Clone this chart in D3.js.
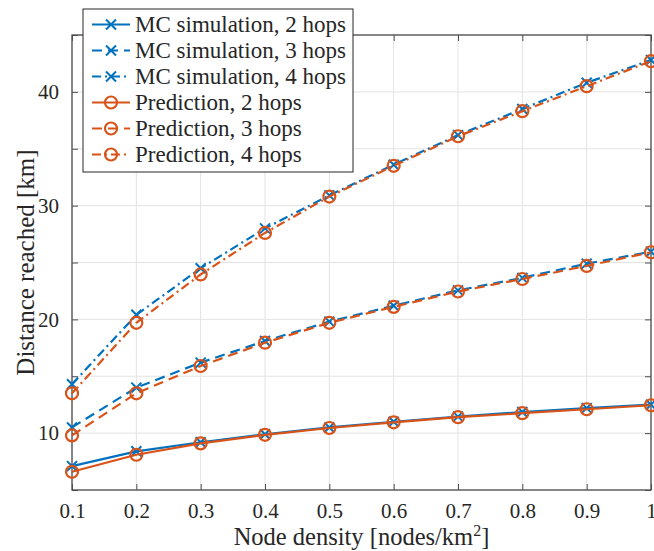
<!DOCTYPE html>
<html>
<head>
<meta charset="utf-8">
<script src="https://cdn.jsdelivr.net/npm/d3@7"></script>
<style>
  html, body { margin: 0; padding: 0; background: #fff; }
  svg { display: block; }
</style>
</head>
<body>
<svg id="chart" width="654" height="551"></svg>
<script>
// Node density (nodes/km^2)
const density = [0.1, 0.2, 0.3, 0.4, 0.5, 0.6, 0.7, 0.8, 0.9, 1.0];

// Monte Carlo simulation results (km)
const mc2 = [7.1, 8.4, 9.2, 9.9, 10.5, 11.0, 11.45, 11.85, 12.2, 12.5];
const mc3 = [10.5, 14.0, 16.2, 18.1, 19.8, 21.2, 22.55, 23.65, 24.9, 25.95];
const mc4 = [14.3, 20.4, 24.5, 28.0, 30.9, 33.6, 36.2, 38.5, 40.8, 42.8];

// Analytical prediction (km)
const pr2 = [6.6, 8.1, 9.1, 9.85, 10.45, 10.95, 11.4, 11.75, 12.1, 12.45];
const pr3 = [9.8, 13.5, 15.9, 17.95, 19.7, 21.1, 22.45, 23.55, 24.7, 25.9];
const pr4 = [13.5, 19.7, 23.95, 27.6, 30.8, 33.5, 36.1, 38.3, 40.5, 42.7];

const xTicks = [0.1, 0.2, 0.3, 0.4, 0.5, 0.6, 0.7, 0.8, 0.9, 1];
const xTickLabels = ["0.1", "0.2", "0.3", "0.4", "0.5", "0.6", "0.7", "0.8", "0.9", "1"];
const yTicks = [5, 10, 15, 20, 25, 30, 35, 40, 45];
const yTickLabels = ["", "10", "", "20", "", "30", "", "40", ""];

const BLUE = "#0072BD", ORANGE = "#D95319";
const DASH = "10,6", DASHDOT = "9,4,2,4";
const FONT = "'Liberation Serif', 'Times New Roman', serif";
const TEXT = "#262626";

const series = [
  { name: "MC simulation, 2 hops", values: mc2, color: BLUE, dash: null, marker: "x" },
  { name: "MC simulation, 3 hops", values: mc3, color: BLUE, dash: DASH, marker: "x" },
  { name: "MC simulation, 4 hops", values: mc4, color: BLUE, dash: DASHDOT, marker: "x" },
  { name: "Prediction, 2 hops", values: pr2, color: ORANGE, dash: null, marker: "o" },
  { name: "Prediction, 3 hops", values: pr3, color: ORANGE, dash: DASH, marker: "o" },
  { name: "Prediction, 4 hops", values: pr4, color: ORANGE, dash: DASHDOT, marker: "o" }
];

const svg = d3.select("#chart");
const mLeft = 72, mRight = 651, mTop = 35, mBottom = 490;

const x = d3.scaleLinear().domain([0.1, 1]).range([mLeft, mRight]);
const y = d3.scaleLinear().domain([5, 45]).range([mBottom, mTop]);

// grid
const grid = svg.append("g");
grid.selectAll("line.gx").data(xTicks).join("line")
  .attr("x1", d => x(d)).attr("x2", d => x(d))
  .attr("y1", mTop).attr("y2", mBottom)
  .attr("stroke", "#e3e3e3").attr("stroke-width", 1);
grid.selectAll("line.gy").data(yTicks).join("line")
  .attr("x1", mLeft).attr("x2", mRight)
  .attr("y1", d => y(d)).attr("y2", d => y(d))
  .attr("stroke", "#e3e3e3").attr("stroke-width", 1);

// axes (inward ticks, box)
const axisColor = "#4d4d4d";
function styleAxis(g) {
  g.attr("font-family", FONT).attr("font-size", 21);
  g.select(".domain").remove();
  g.selectAll(".tick line").attr("stroke", axisColor).attr("stroke-width", 1);
  g.selectAll(".tick text").attr("fill", TEXT);
}
svg.append("g").attr("transform", `translate(0,${mBottom})`)
  .call(d3.axisBottom(x).tickValues(xTicks).tickFormat((d, i) => xTickLabels[i]).tickSizeInner(-6).tickSizeOuter(0).tickPadding(13))
  .call(styleAxis);
svg.append("g").attr("transform", `translate(0,${mTop})`)
  .call(d3.axisTop(x).tickValues(xTicks).tickFormat("").tickSizeInner(-6).tickSizeOuter(0))
  .call(styleAxis);
svg.append("g").attr("transform", `translate(${mLeft},0)`)
  .call(d3.axisLeft(y).tickValues(yTicks).tickFormat((d, i) => yTickLabels[i]).tickSizeInner(-6).tickSizeOuter(0).tickPadding(13))
  .call(styleAxis);
svg.append("g").attr("transform", `translate(${mRight},0)`)
  .call(d3.axisRight(y).tickValues(yTicks).tickFormat("").tickSizeInner(-6).tickSizeOuter(0))
  .call(styleAxis);
svg.append("rect")
  .attr("x", mLeft).attr("y", mTop).attr("width", mRight - mLeft).attr("height", mBottom - mTop)
  .attr("fill", "none").attr("stroke", axisColor).attr("stroke-width", 1.3);

// series
const line = d3.line().x((d, i) => x(density[i])).y(d => y(d));
const plot = svg.append("g");
function drawMarker(g, type, cx, cy, color) {
  if (type === "x") {
    const s = 5;
    g.append("path")
      .attr("d", `M${cx - s},${cy - s}L${cx + s},${cy + s}M${cx - s},${cy + s}L${cx + s},${cy - s}`)
      .attr("stroke", color).attr("stroke-width", 2).attr("fill", "none");
  } else {
    g.append("circle").attr("cx", cx).attr("cy", cy).attr("r", 6)
      .attr("stroke", color).attr("stroke-width", 2.2).attr("fill", "none");
  }
}
series.forEach(s => {
  const g = plot.append("g");
  g.append("path").datum(s.values).attr("d", line)
    .attr("fill", "none").attr("stroke", s.color).attr("stroke-width", 2.2)
    .attr("stroke-dasharray", s.dash);
  s.values.forEach((v, i) => drawMarker(g, s.marker, x(density[i]), y(v), s.color));
});

// axis titles
svg.append("text")
  .attr("x", (mLeft + mRight) / 2).attr("y", 545)
  .attr("text-anchor", "middle").attr("font-family", FONT).attr("font-size", 24.5).attr("fill", TEXT)
  .html('Node density [nodes/km<tspan dy="-9" font-size="16">2</tspan><tspan dy="9">]</tspan>');
svg.append("text")
  .attr("transform", `translate(34,${(mTop + mBottom) / 2}) rotate(-90)`)
  .attr("text-anchor", "middle").attr("font-family", FONT).attr("font-size", 25).attr("fill", TEXT)
  .text("Distance reached [km]");

// legend
const lg = svg.append("g");
const lx = 83, ly = 9, lw = 270, lh = 163;
lg.append("rect").attr("x", lx).attr("y", ly).attr("width", lw).attr("height", lh)
  .attr("fill", "#fff").attr("stroke", "#262626").attr("stroke-width", 1);
series.forEach((s, i) => {
  const cy = ly + 15.5 + i * 26;
  lg.append("line").attr("x1", lx + 9).attr("x2", lx + 47).attr("y1", cy).attr("y2", cy)
    .attr("stroke", s.color).attr("stroke-width", 2.2).attr("stroke-dasharray", s.dash);
  drawMarker(lg, s.marker, lx + 28, cy, s.color);
  lg.append("text").attr("x", lx + 52).attr("y", cy + 7)
    .attr("font-family", FONT).attr("font-size", 23).attr("fill", TEXT)
    .text(s.name);
});
</script>
</body>
</html>
